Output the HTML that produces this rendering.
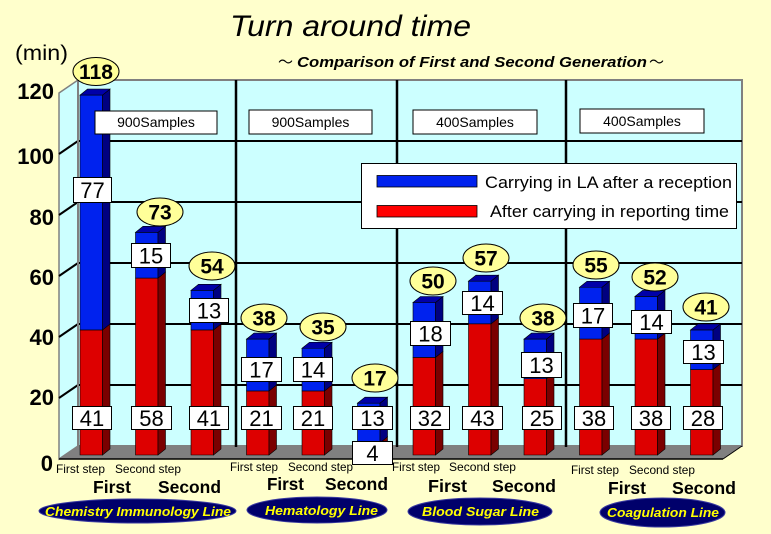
<!DOCTYPE html>
<html><head><meta charset="utf-8"><style>
html,body{margin:0;padding:0;background:#ffffcc;}
svg{display:block;}
text{font-family:"Liberation Sans",Arial,sans-serif;}
</style></head><body>
<svg width="771" height="534" viewBox="0 0 771 534" xmlns="http://www.w3.org/2000/svg">
<rect x="0" y="0" width="771" height="534" fill="#ffffcc"/>
<!-- title -->
<text x="230" y="36" font-size="30" font-style="italic" textLength="241" lengthAdjust="spacingAndGlyphs">Turn around time</text>
<text x="278" y="67" font-size="15" style="font-family:'Noto Sans CJK JP',sans-serif">～</text>
<text x="297" y="67" font-size="14.5" font-style="italic" font-weight="bold" textLength="350" lengthAdjust="spacingAndGlyphs">Comparison of First and Second Generation</text>
<text x="649" y="67" font-size="15" style="font-family:'Noto Sans CJK JP',sans-serif">～</text>
<text x="15" y="60" font-size="21" textLength="53" lengthAdjust="spacingAndGlyphs">(min)</text>

<!-- side wall -->
<polygon points="59,93 78,80 78,446 59,459" fill="#ccffff" stroke="#808080" stroke-width="1.5"/>
<!-- back wall -->
<rect x="78" y="80" width="664" height="366" fill="#ccffff" stroke="#808080" stroke-width="2"/>
<!-- floor -->
<polygon points="59,459 723,459 742,446 78,446" fill="#808080"/>
<line x1="59" y1="459" x2="723" y2="459" stroke="#000" stroke-width="1.5"/>
<line x1="723" y1="459" x2="742" y2="446" stroke="#000" stroke-width="1"/>
<!-- grid -->
<g stroke="#000" stroke-width="2">
<line x1="78" y1="141" x2="742" y2="141"/>
<line x1="78" y1="202" x2="742" y2="202"/>
<line x1="78" y1="263" x2="742" y2="263"/>
<line x1="78" y1="324" x2="742" y2="324"/>
<line x1="78" y1="385" x2="742" y2="385"/>
<line x1="59" y1="154" x2="78" y2="141"/>
<line x1="59" y1="215" x2="78" y2="202"/>
<line x1="59" y1="276" x2="78" y2="263"/>
<line x1="59" y1="337" x2="78" y2="324"/>
<line x1="59" y1="398" x2="78" y2="385"/>
</g>
<g stroke="#000" stroke-width="2.5">
<line x1="236" y1="80" x2="236" y2="447"/>
<line x1="397" y1="80" x2="397" y2="447"/>
<line x1="566" y1="80" x2="566" y2="447"/>
</g>
<line x1="78" y1="80" x2="78" y2="446" stroke="#808080" stroke-width="2"/>

<!-- y labels -->
<g font-size="22" font-weight="bold" text-anchor="end">
<text x="54" y="99">120</text>
<text x="54" y="164">100</text>
<text x="54" y="225">80</text>
<text x="54" y="285">60</text>
<text x="54" y="345">40</text>
<text x="54" y="405">20</text>
<text x="53" y="471">0</text>
</g>

<!-- bars -->
<g stroke="#000" stroke-width="0.6" id="bars"></g>

<!-- sample boxes -->
<g font-size="14" text-anchor="middle">
<rect x="95" y="111" width="122" height="23" fill="#fff" stroke="#000"/>
<text x="156" y="127">900Samples</text>
<rect x="249" y="110" width="123" height="24" fill="#fff" stroke="#000"/>
<text x="310.5" y="127">900Samples</text>
<rect x="413" y="110" width="124" height="24" fill="#fff" stroke="#000"/>
<text x="475" y="127">400Samples</text>
<rect x="580" y="109" width="124" height="24" fill="#fff" stroke="#000"/>
<text x="642" y="126">400Samples</text>
</g>

<!-- legend -->
<rect x="361.5" y="163.5" width="375" height="65" fill="#fff" stroke="#000"/>
<rect x="377" y="175.5" width="100" height="11.5" fill="#0022ee" stroke="#000" stroke-width="0.8"/>
<rect x="377" y="205.5" width="100" height="11.5" fill="#ff0000" stroke="#000" stroke-width="0.8"/>
<text x="485" y="188" font-size="16.5" textLength="247" lengthAdjust="spacingAndGlyphs">Carrying in LA after a reception</text>
<text x="490" y="217" font-size="16.5" textLength="239" lengthAdjust="spacingAndGlyphs">After carrying in reporting time</text>

<!-- value labels -->
<g font-size="22" text-anchor="middle" id="labels"></g>
<!-- bubbles -->
<g font-size="21" font-weight="bold" text-anchor="middle" id="bubbles"></g>

<!-- bottom labels -->
<g font-size="12">
<text x="56" y="473" textLength="49" lengthAdjust="spacingAndGlyphs">First step</text>
<text x="115" y="473" textLength="66" lengthAdjust="spacingAndGlyphs">Second step</text>
<text x="230" y="471" textLength="48" lengthAdjust="spacingAndGlyphs">First step</text>
<text x="288" y="471" textLength="65" lengthAdjust="spacingAndGlyphs">Second step</text>
<text x="392" y="471" textLength="48" lengthAdjust="spacingAndGlyphs">First step</text>
<text x="449" y="471" textLength="67" lengthAdjust="spacingAndGlyphs">Second step</text>
<text x="571" y="474" textLength="48" lengthAdjust="spacingAndGlyphs">First step</text>
<text x="629" y="474" textLength="66" lengthAdjust="spacingAndGlyphs">Second step</text>
</g>
<g font-size="17.5" font-weight="bold">
<text x="93" y="493" textLength="38" lengthAdjust="spacingAndGlyphs">First</text>
<text x="158" y="493" textLength="63" lengthAdjust="spacingAndGlyphs">Second</text>
<text x="267" y="490" textLength="37" lengthAdjust="spacingAndGlyphs">First</text>
<text x="325" y="490" textLength="63" lengthAdjust="spacingAndGlyphs">Second</text>
<text x="428" y="492" textLength="39" lengthAdjust="spacingAndGlyphs">First</text>
<text x="492" y="492" textLength="64" lengthAdjust="spacingAndGlyphs">Second</text>
<text x="608" y="494" textLength="38" lengthAdjust="spacingAndGlyphs">First</text>
<text x="672" y="494" textLength="64" lengthAdjust="spacingAndGlyphs">Second</text>
</g>
<g fill="#00006b" stroke="#3a3aa0" stroke-width="1">
<ellipse cx="137.5" cy="511" rx="98.5" ry="12"/>
<ellipse cx="317" cy="510" rx="70" ry="13"/>
<ellipse cx="480" cy="511.5" rx="72" ry="13.5"/>
<ellipse cx="662.5" cy="512.5" rx="62.5" ry="14.5"/>
</g>
<g font-size="13" font-weight="bold" font-style="italic" fill="#ffff00">
<text x="45" y="516" textLength="186" lengthAdjust="spacingAndGlyphs">Chemistry Immunology Line</text>
<text x="265" y="515" textLength="113" lengthAdjust="spacingAndGlyphs">Hematology Line</text>
<text x="422" y="516" textLength="117" lengthAdjust="spacingAndGlyphs">Blood Sugar Line</text>
<text x="607" y="517" textLength="112" lengthAdjust="spacingAndGlyphs">Coagulation Line</text>
</g>

<!-- static bars (inline) -->
</svg>
<script>
(function(){
var NS="http://www.w3.org/2000/svg";
var data=[[41,77],[58,15],[41,13],[21,17],[21,14],[4,13],[32,18],[43,14],[25,13],[38,17],[38,14],[28,13]];
var bars=document.getElementById('bars');
var base=455,s=3.05,w=22.5,dx=7.5,dy=6;
function poly(pts,fill){var p=document.createElementNS(NS,'polygon');p.setAttribute('points',pts.map(function(a){return a[0]+','+a[1];}).join(' '));p.setAttribute('fill',fill);bars.appendChild(p);}
data.forEach(function(d,i){
 var x=80+55.5*i;
 var yb=base-d[0]*s, yt=base-(d[0]+d[1])*s;
 poly([[x,yb],[x+w,yb],[x+w,base],[x,base]],'#dd0000');
 poly([[x+w,yb],[x+w+dx,yb-dy],[x+w+dx,base-dy],[x+w,base]],'#7a0000');
 poly([[x,yt],[x+w,yt],[x+w,yb],[x,yb]],'#0022ee');
 poly([[x+w,yt],[x+w+dx,yt-dy],[x+w+dx,yb-dy],[x+w,yb]],'#000080');
 poly([[x,yt],[x+dx,yt-dy],[x+w+dx,yt-dy],[x+w,yt]],'#0000a8');
});
var labels=document.getElementById('labels');
var L=[[72,111,406,429,'41'],[131,171,406,429,'58'],[189,228,406,429,'41'],[241,281,406,429,'21'],[293,332,406,429,'21'],[352,392,406,429,'13'],[410,449,406,429,'32'],[462,502,406,429,'43'],[522,561,406,429,'25'],[574,613,406,429,'38'],[631,670,406,429,'38'],[683,722,406,429,'28'],
[73,111,177,202,'77'],[131,170,243,267,'15'],[189,228,298,322,'13'],[241,281,357,381,'17'],[293,332,357,381,'14'],[352,392,441,464,'4'],[410,450,321,345,'18'],[462,502,291,314,'14'],[521,561,352,377,'13'],[573,612,303,327,'17'],[631,671,310,333,'14'],[683,723,340,363,'13']];
L.forEach(function(b){
 var r=document.createElementNS(NS,'rect');r.setAttribute('x',b[0]+0.5);r.setAttribute('y',b[2]+0.5);r.setAttribute('width',b[1]-b[0]);r.setAttribute('height',b[3]-b[2]);r.setAttribute('fill','#fff');r.setAttribute('stroke','#000');labels.appendChild(r);
 var t=document.createElementNS(NS,'text');t.setAttribute('x',(b[0]+b[1])/2+0.5);t.setAttribute('y',(b[2]+b[3])/2+8.5);t.textContent=b[4];labels.appendChild(t);
});
var bub=document.getElementById('bubbles');
var B=[[96,71.5,'118'],[160,212,'73'],[212,266,'54'],[264,318,'38'],[323,327,'35'],[375,378,'17'],[433,281,'50'],[486,258,'57'],[543,318,'38'],[596,265,'55'],[655,277,'52'],[706,307,'41']];
B.forEach(function(b){
 var e=document.createElementNS(NS,'ellipse');e.setAttribute('cx',b[0]);e.setAttribute('cy',b[1]);e.setAttribute('rx',23);e.setAttribute('ry',14);e.setAttribute('fill','#ffff99');e.setAttribute('stroke','#000');bub.appendChild(e);
 var t=document.createElementNS(NS,'text');t.setAttribute('x',b[0]);t.setAttribute('y',b[1]+7.5);t.textContent=b[2];bub.appendChild(t);
});
})();
</script>
</body></html>
